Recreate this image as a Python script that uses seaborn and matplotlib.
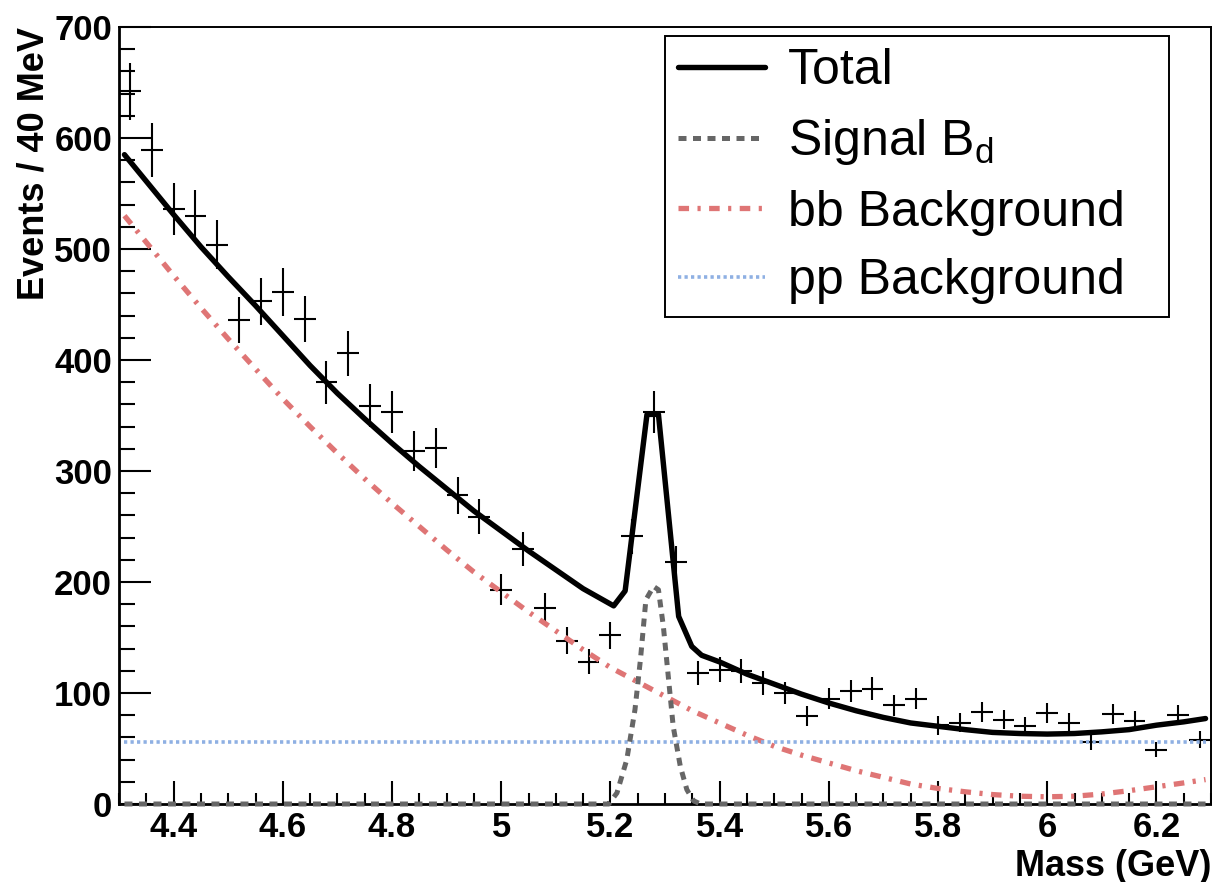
import numpy as np
import matplotlib
matplotlib.use("Agg")
import matplotlib.pyplot as plt
import seaborn as sns
from matplotlib.ticker import MultipleLocator, FuncFormatter

# ---------------- data ----------------
bin_centers = [4.32, 4.36, 4.40, 4.44, 4.48, 4.52, 4.56, 4.60, 4.64, 4.68,
               4.72, 4.76, 4.80, 4.84, 4.88, 4.92, 4.96, 5.00, 5.04, 5.08,
               5.12, 5.16, 5.20, 5.24, 5.28, 5.32, 5.36, 5.40, 5.44, 5.48,
               5.52, 5.56, 5.60, 5.64, 5.68, 5.72, 5.76, 5.80, 5.84, 5.88,
               5.92, 5.96, 6.00, 6.04, 6.08, 6.12, 6.16, 6.20, 6.24, 6.28]
counts = [642, 589, 536, 530, 504, 436, 453, 461, 437, 380,
          406, 359, 353, 318, 321, 278, 259, 193, 230, 177,
          147, 128, 152, 241, 353, 218, 118, 121, 120, 109,
          100, 79, 95, 102, 104, 89, 95, 71, 73, 83,
          76, 70, 82, 73, 56, 81, 75, 49, 80, 58]

total_mass = [4.31, 4.35, 4.40, 4.45, 4.50, 4.55, 4.60, 4.65, 4.70, 4.75,
              4.80, 4.85, 4.90, 4.95, 5.00, 5.05, 5.10, 5.15, 5.206, 5.227,
              5.267, 5.288, 5.325, 5.349, 5.367, 5.40, 5.45, 5.50, 5.55, 5.60,
              5.65, 5.70, 5.75, 5.80, 5.85, 5.90, 5.95, 6.00, 6.05, 6.10,
              6.15, 6.20, 6.25, 6.29]
total_vals = [585, 561, 531, 502, 475, 449, 422, 395, 370, 347,
              325, 304, 284, 264, 246, 228, 211, 194, 178.5, 192,
              351, 351, 169, 142, 134, 128, 117, 108, 99, 91,
              84, 78, 73, 70, 67, 64.5, 63.5, 63, 63.5, 65,
              67, 71, 74, 77]

sig_mass = [4.31, 5.197, 5.212, 5.230, 5.245, 5.255, 5.265, 5.279, 5.288,
            5.297, 5.306, 5.315, 5.328, 5.340, 5.352, 5.365, 6.29]
sig_vals = [0, 0, 10, 40, 85, 130, 184, 196, 193,
            160, 115, 70, 34, 13, 3, 0, 0]

bb_mass = [4.31, 4.35, 4.40, 4.45, 4.50, 4.55, 4.60, 4.65, 4.70, 4.75,
           4.80, 4.85, 4.90, 4.95, 5.00, 5.05, 5.10, 5.15, 5.20, 5.25,
           5.30, 5.35, 5.40, 5.45, 5.50, 5.55, 5.60, 5.65, 5.70, 5.75,
           5.80, 5.85, 5.90, 5.95, 6.00, 6.05, 6.10, 6.15, 6.20, 6.25, 6.29]
bb_vals = [530, 506, 476, 447, 419, 392, 365, 340, 316, 293,
           271, 250, 229, 209, 191, 173, 156, 139, 123, 110,
           97, 84, 73, 62, 52, 44, 37, 30, 24, 18,
           14, 11, 8.5, 7, 6.5, 7, 9, 12, 15.5, 19, 22]

pp_mass = [4.31, 6.29]
pp_vals = [55.5, 55.5]

legend_labels = ["Total", r"Signal B$_\mathregular{d}$", "bb Background", "pp Background"]
x_label = "Mass (GeV)"
y_label = "Events / 40 MeV"

# ---------------- style ----------------
sns.set_theme(style="ticks")
plt.rcParams['font.family'] = ['Liberation Sans', 'DejaVu Sans']
plt.rcParams['mathtext.fontset'] = 'custom'
plt.rcParams['mathtext.rm'] = 'Liberation Sans'
plt.rcParams['mathtext.it'] = 'Liberation Sans:italic'
plt.rcParams['mathtext.bf'] = 'Liberation Sans:bold'
for key in ['text.color', 'axes.labelcolor', 'xtick.color', 'ytick.color',
            'axes.edgecolor']:
    plt.rcParams[key] = 'black'

W, H = 1212, 882
fig = plt.figure(figsize=(W / 100, H / 100), dpi=100)
fig.patch.set_facecolor('white')
ax = fig.add_axes([119 / W, 1 - 804 / H, (1211 - 119) / W, (804 - 27) / H])
ax.set_facecolor('white')

# data points with errors
ax.errorbar(bin_centers, counts, xerr=0.02, yerr=np.sqrt(counts), fmt='none',
            ecolor='black', elinewidth=1.5, capsize=0, zorder=3)

# curves
sns.lineplot(x=total_mass, y=total_vals, ax=ax, color='black', linewidth=3.9,
             label=legend_labels[0], zorder=4)
sns.lineplot(x=sig_mass, y=sig_vals, ax=ax, color='#666666', linewidth=3.6,
             linestyle=(0, (1.6, 1.3)), label=legend_labels[1], zorder=5, clip_on=False)
sns.lineplot(x=bb_mass, y=bb_vals, ax=ax, color='#df7575', linewidth=3.8,
             linestyle=(0, (2.0, 1.6, 0.6, 1.6)), label=legend_labels[2], zorder=4)
sns.lineplot(x=pp_mass, y=pp_vals, ax=ax, color='#8fb0e3', linewidth=2.6,
             linestyle=(0, (0.9, 0.9)), label=legend_labels[3], zorder=4)

# axes
ax.set_xlim(4.3, 6.3)
ax.set_ylim(0, 700)
ax.xaxis.set_major_locator(MultipleLocator(0.2))
ax.xaxis.set_minor_locator(MultipleLocator(0.05))
ax.yaxis.set_major_locator(MultipleLocator(100))
ax.yaxis.set_minor_locator(MultipleLocator(20))
ax.xaxis.set_major_formatter(FuncFormatter(lambda v, p: f"{round(v, 3):g}"))
ax.tick_params(which='both', direction='in', top=False, right=False,
               width=1.5, color='black', labelcolor='black')
ax.tick_params(axis='y', which='major', length=23, labelsize=25, pad=5)
ax.tick_params(axis='y', which='minor', length=11.5)
ax.tick_params(axis='x', which='major', length=16.5, labelsize=25, pad=5)
ax.tick_params(axis='x', which='minor', length=8)
for lbl in ax.get_xticklabels() + ax.get_yticklabels():
    lbl.set_fontweight('bold')
for side in ['top', 'right', 'left', 'bottom']:
    ax.spines[side].set_visible(True)
    ax.spines[side].set_color('black')
    ax.spines[side].set_linewidth(1.4)
ax.spines['left'].set_linewidth(2)
ax.spines['bottom'].set_linewidth(2)

ax.set_xlabel(x_label, fontsize=26, fontweight='bold', loc='right', color='black')
ax.set_ylabel(y_label, fontsize=26, fontweight='bold', loc='top', color='black')
ax.xaxis.set_label_coords(1.0, -0.058)
ax.yaxis.set_label_coords(-0.062, 1.0)

leg = ax.legend(loc='upper left',
                bbox_to_anchor=(665 / W, 1 - 36 / H, (1169 - 665) / W, 0.0),
                bbox_transform=fig.transFigure, mode='expand', borderaxespad=0,
                fancybox=False, frameon=True, edgecolor='black', framealpha=1,
                fontsize=36, handlelength=1.75, handletextpad=0.45,
                labelspacing=0.45, borderpad=0.25)
leg.get_frame().set_linewidth(1.4)
for t in leg.get_texts():
    t.set_color('black')

fig.savefig('out.png', dpi=100, facecolor='white')
